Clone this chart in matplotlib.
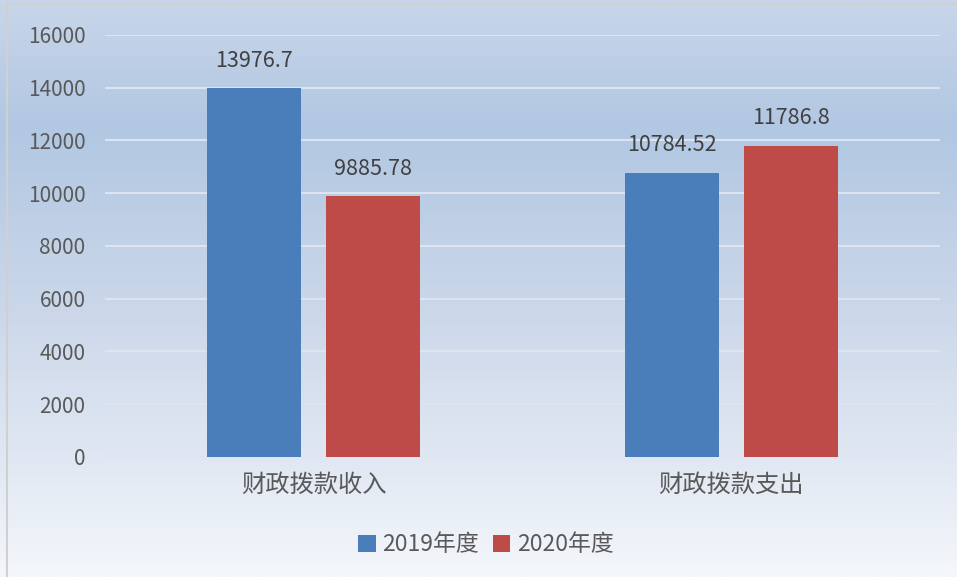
import numpy as np
import matplotlib
matplotlib.use('Agg')
import matplotlib.pyplot as plt
from matplotlib.colors import LinearSegmentedColormap
from matplotlib.patches import Rectangle

plt.rcParams['font.family'] = ['Noto Sans CJK SC', 'DejaVu Sans']

categories = ['财政拨款收入', '财政拨款支出']
series = ['2019年度', '2020年度']
values_2019 = [13976.7, 10784.52]
values_2020 = [9885.78, 11786.8]
labels_2019 = ['13976.7', '10784.52']
labels_2020 = ['9885.78', '11786.8']
yticks = [0, 2000, 4000, 6000, 8000, 10000, 12000, 14000, 16000]

c_blue = '#4a7ebb'
c_red = '#be4b48'
txt = '#595959'

fig = plt.figure(figsize=(9.57, 5.77), dpi=100)

# gradient background over whole figure
bg = fig.add_axes([0, 0, 1, 1], zorder=-10)
stops = [(0.0, (200/255, 214/255, 234/255)),
         (0.22, (177/255, 199/255, 226/255)),
         (0.55, (204/255, 216/255, 234/255)),
         (0.80, (225/255, 232/255, 243/255)),
         (1.0, (244/255, 247/255, 251/255))]
cmap = LinearSegmentedColormap.from_list('bg', stops)
grad = np.linspace(0, 1, 256).reshape(-1, 1)
bg.imshow(grad, aspect='auto', cmap=cmap, extent=[0, 1, 0, 1], origin='upper')
bg.add_patch(Rectangle((0.007, -0.01), 1.0, 1.003, fill=False,
                       edgecolor='#d0d0d0', lw=1.5, transform=bg.transAxes))
bg.set_xlim(0, 1)
bg.set_ylim(0, 1)
bg.axis('off')

ax = fig.add_axes([0.1097, 0.208, 0.8725, 0.7314])
ax.patch.set_alpha(0)

x = np.arange(len(categories))
w = 0.225
off = 0.1425
b1 = ax.bar(x - off, values_2019, w, color=c_blue, label=series[0], zorder=3)
b2 = ax.bar(x + off, values_2020, w, color=c_red, label=series[1], zorder=3)

for bars, labs in ((b1, labels_2019), (b2, labels_2020)):
    for rect, lab in zip(bars, labs):
        ax.annotate(lab, (rect.get_x() + rect.get_width() / 2, rect.get_height()),
                    xytext=(0, 12), textcoords='offset points', ha='center',
                    va='bottom', fontsize=15.5, color='#404040')

ax.set_xlim(-0.5, 1.5)
ax.set_ylim(0, 16000)
ax.set_yticks(yticks)
ax.set_yticklabels([str(t) for t in yticks])
ax.set_xticks(x)
ax.set_xticklabels(categories)
ax.tick_params(axis='y', length=0, pad=14, labelsize=15, labelcolor=txt)
ax.tick_params(axis='x', length=0, pad=11, labelsize=17.5, labelcolor=txt)
ax.grid(axis='y', color='#dde4ee', lw=1.5, zorder=0)
for s in ax.spines.values():
    s.set_visible(False)

fig.legend(handles=[b1, b2], loc='center', bbox_to_anchor=(0.508, 0.056), ncol=2,
           frameon=False, fontsize=16.5, labelcolor=txt, handlelength=0.75,
           handleheight=0.75, handletextpad=0.3, columnspacing=0.6)

fig.savefig('out.png', dpi=100)
